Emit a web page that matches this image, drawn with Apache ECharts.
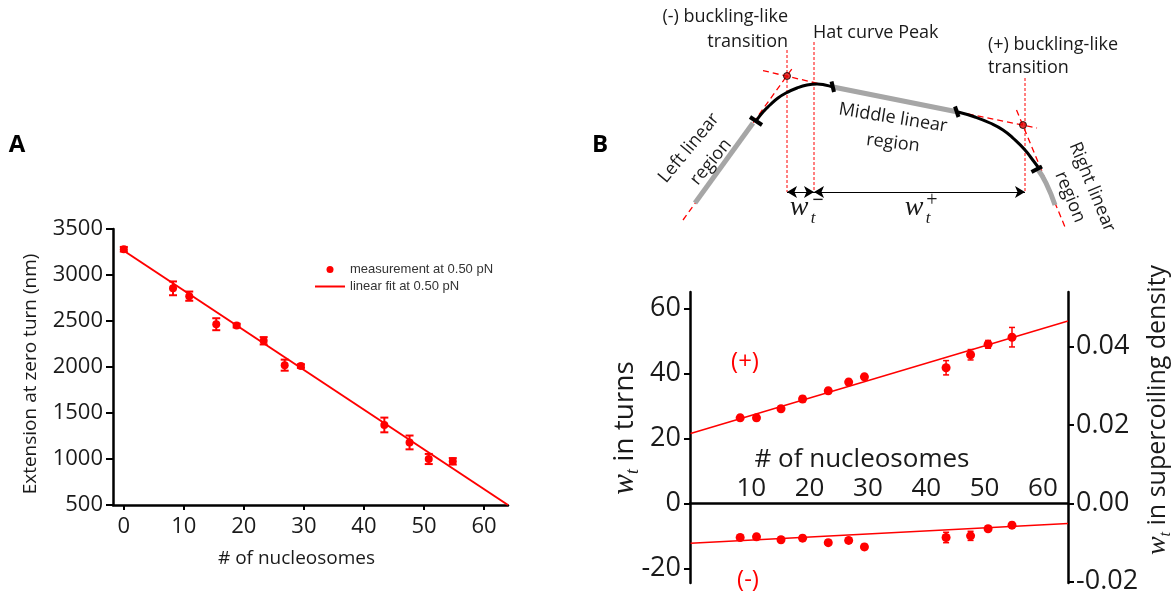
<!DOCTYPE html>
<html>
<head>
<meta charset="utf-8">
<script src="https://cdn.jsdelivr.net/npm/echarts@6/dist/echarts.min.js"></script>
<style>
    html, body { margin: 0; padding: 0; background: #fff; }
    #main { width: 1176px; height: 598px; }
</style>
</head>
<body>
<div id="main"></div>
<script>
    // ---- panel A: extension at zero turn ----
    var nucA = [0, 8.2, 10.9, 15.4, 18.8, 23.3, 26.8, 29.5, 43.4, 47.6, 50.8, 54.8];
    var extA = [3280, 2855, 2770, 2465, 2450, 2285, 2020, 2010, 1370, 1180, 1000, 975];
    var errA = [25, 75, 50, 65, 20, 40, 60, 20, 80, 75, 55, 35];
    var fitA = [[0, 3264], [64, 500]];
    var ticksAx = [0, 10, 20, 30, 40, 50, 60];

    // ---- panel B: w_t vs nucleosomes ----
    var nucB = [8.1, 10.9, 15.1, 18.8, 23.2, 26.7, 29.4, 43.4, 47.6, 50.6, 54.7];
    var plusB = [26.3, 26.3, 29.1, 32.1, 34.6, 37.3, 38.9, 41.7, 45.7, 48.9, 51.1];
    var plusErr = [0.8, 0.8, 0.8, 0.8, 0.8, 0.8, 0.8, 2.2, 1.6, 1.2, 3];
    var minusB = [-10.5, -10.3, -11.2, -10.7, -12.1, -11.4, -13.4, -10.5, -10.0, -7.8, -6.7];
    var minusErr = [0.8, 0.8, 0.8, 0.8, 0.8, 0.8, 0.8, 1.6, 1.4, 0.8, 0.8];
    var fitPlus = [[-0.4, 21.5], [64.3, 56.1]];
    var fitMinus = [[-0.4, -12.3], [64.3, -6.2]];
    var ticksBx = [10, 20, 30, 40, 50, 60];
    var ticksTurns = [-20, 0, 20, 40, 60];
    var ticksDensity = [-0.02, 0, 0.02, 0.04];

    // ---- schematic hat curve (drawing units of the top-right box) ----
    var steepLeftTangent = [[683, 220], [794, 66]];
    var flatLeftTangent = [[763, 70.6], [833, 87]];
    var flatRightTangent = [[958, 112], [1037, 128]];
    var steepRightTangent = [[1016.5, 110], [1065, 227]];
    var leftLinear = [[695, 203], [753, 123]];
    var middleLinear = [[833, 87], [958, 112]];
    var rightLinear = [[1037, 168], [1046, 183], [1055, 205]];
    var leftBend = [[756, 121], [763, 112], [770, 105], [778, 98], [787, 92.5], [797, 88], [807, 85], [817, 84], [825, 85], [833, 87]];
    var rightBend = [[958, 112], [975, 117], [990, 123], [1003, 130], [1014, 139], [1025, 150], [1032, 159], [1038, 167]];
    var bendMarks = [[[750, 117], [762, 125]], [[831.5, 81.5], [834, 92]], [[955, 106.5], [958.5, 117]], [[1031.5, 172], [1042, 166.5]]];
    var transitions = [[787, 76], [1023, 125]];
    var guideLines = [[[787, 50], [787, 192]], [[814, 42], [814, 192]], [[1025, 78], [1025, 192]]];
    var widthArrows = [[[787, 192], [814, 192]], [[814, 192], [1025, 192]]];

    var FONT = '"Open Sans", sans-serif';
    var RED = '#ff0000';

    function zip(xs, ys, es) {
        return xs.map(function (x, i) {
            return es ? [x, ys[i], es[i]] : [x, ys[i]];
        });
    }

    // 误差棒
    function errorBar(cap, width) {
        return function (params, api) {
            var x = api.value(0), y = api.value(1), e = api.value(2);
            var hi = api.coord([x, y + e]);
            var lo = api.coord([x, y - e]);
            var s = { stroke: RED, lineWidth: width };
            return {
                type: 'group',
                children: [
                    { type: 'line', shape: { x1: hi[0], y1: hi[1], x2: lo[0], y2: lo[1] }, style: s },
                    { type: 'line', shape: { x1: hi[0] - cap, y1: hi[1], x2: hi[0] + cap, y2: hi[1] }, style: s },
                    { type: 'line', shape: { x1: lo[0] - cap, y1: lo[1], x2: lo[0] + cap, y2: lo[1] }, style: s }
                ]
            };
        };
    }

    function seg(data, color, width, type, smooth, z) {
        return {
            type: 'line', xAxisIndex: 2, yAxisIndex: 3, data: data, symbol: 'none',
            smooth: smooth || false, silent: true, z: z || 2,
            lineStyle: { color: color, width: width, type: type || 'solid', cap: 'butt' }
        };
    }

    function label(x, y, text, opt) {
        opt = opt || {};
        return {
            type: 'text', x: x, y: y, rotation: opt.rot || 0, silent: true, z: 100,
            style: {
                text: text,
                fill: opt.color || '#1a1a1a',
                font: opt.font || ('18px ' + FONT),
                align: opt.align || 'center', verticalAlign: 'middle',
                textAlign: opt.align || 'center', textVerticalAlign: 'middle',
                rich: opt.rich
            }
        };
    }

    function mathRich(size) {
        return {
            w: { fontFamily: '"Liberation Serif", serif', fontStyle: 'italic', fontSize: size + 3, lineHeight: size + 6 },
            t: { fontFamily: '"Liberation Serif", serif', fontStyle: 'italic', fontSize: Math.round(size * 0.65), lineHeight: Math.round(size * 0.5), verticalAlign: 'bottom' },
            n: { fontFamily: FONT, fontSize: size, lineHeight: size + 6 }
        };
    }

    var axisLine = { show: true, onZero: false, lineStyle: { color: '#000', width: 2.5 } };

    var series = [
        // panel A
        {
            name: 'linear fit at 0.50 pN', type: 'line', xAxisIndex: 0, yAxisIndex: 0,
            data: fitA, symbol: 'none', itemStyle: { color: RED },
            lineStyle: { color: RED, width: 2 }, z: 2
        },
        {
            type: 'custom', xAxisIndex: 0, yAxisIndex: 0, data: zip(nucA, extA, errA),
            renderItem: errorBar(4, 2), encode: { x: 0, y: 1 }, z: 3
        },
        {
            name: 'measurement at 0.50 pN', type: 'scatter', xAxisIndex: 0, yAxisIndex: 0,
            data: zip(nucA, extA), symbolSize: 8, itemStyle: { color: RED, opacity: 1 }, z: 4
        },
        // panel B
        {
            type: 'line', xAxisIndex: 1, yAxisIndex: 1, data: fitPlus, symbol: 'none',
            lineStyle: { color: RED, width: 1.5 }, z: 2
        },
        {
            type: 'line', xAxisIndex: 1, yAxisIndex: 1, data: fitMinus, symbol: 'none',
            lineStyle: { color: RED, width: 1.5 }, z: 2
        },
        {
            type: 'custom', xAxisIndex: 1, yAxisIndex: 1, data: zip(nucB, plusB, plusErr),
            renderItem: errorBar(3, 1.5), encode: { x: 0, y: 1 }, z: 3
        },
        {
            type: 'custom', xAxisIndex: 1, yAxisIndex: 1, data: zip(nucB, minusB, minusErr),
            renderItem: errorBar(3, 1.5), encode: { x: 0, y: 1 }, z: 3
        },
        {
            type: 'scatter', xAxisIndex: 1, yAxisIndex: 1, data: zip(nucB, plusB),
            symbolSize: 9, itemStyle: { color: RED, opacity: 1 }, z: 4
        },
        {
            type: 'scatter', xAxisIndex: 1, yAxisIndex: 1, data: zip(nucB, minusB),
            symbolSize: 9, itemStyle: { color: RED, opacity: 1 }, z: 4
        },
        // schematic
        seg(steepLeftTangent, RED, 1.3, [6, 4]),
        seg(flatLeftTangent, RED, 1.3, [6, 4]),
        seg(flatRightTangent, RED, 1.3, [6, 4]),
        seg(steepRightTangent, RED, 1.3, [6, 4]),
        seg(leftLinear, '#a6a6a6', 5, 'solid', false, 3),
        seg(middleLinear, '#a6a6a6', 5, 'solid', false, 3),
        seg(rightLinear, '#a6a6a6', 5, 'solid', true, 3),
        seg(leftBend, '#000', 3, 'solid', true, 4),
        seg(rightBend, '#000', 3, 'solid', true, 4)
    ];
    bendMarks.forEach(function (m) { series.push(seg(m, '#000', 4, 'solid', false, 5)); });
    guideLines.forEach(function (m) { series.push(seg(m, RED, 1, [3, 2], false, 1)); });
    series.push({
        type: 'scatter', xAxisIndex: 2, yAxisIndex: 3, data: transitions, symbolSize: 7, silent: true, z: 6,
        itemStyle: { color: '#e00000', borderColor: '#000', borderWidth: 1 }
    });
    series.push({
        type: 'line', xAxisIndex: 2, yAxisIndex: 3, data: [], silent: true,
        markLine: {
            silent: true, animation: false, symbol: ['arrow', 'arrow'], symbolSize: [9, 10],
            label: { show: false }, lineStyle: { color: '#000', width: 1, type: 'solid' },
            data: widthArrows.map(function (a) { return [{ coord: a[0] }, { coord: a[1] }]; })
        }
    });

    var option = {
        animation: false,
        backgroundColor: '#fff',
        textStyle: { fontFamily: FONT },
        legend: {
            data: [
                { name: 'measurement at 0.50 pN', icon: 'circle' },
                { name: 'linear fit at 0.50 pN', icon: 'path://M0,0L30,0L30,2L0,2Z' }
            ],
            orient: 'vertical', left: 310, top: 258, itemWidth: 30, itemHeight: 7, itemGap: 4,
            selectedMode: false,
            textStyle: { fontFamily: '"Liberation Sans", Arial, sans-serif', fontSize: 13, color: '#333' }
        },
        grid: [
            { left: 113, top: 229, width: 395, height: 276 },
            { left: 690, top: 292, width: 378, height: 291 },
            { left: 580, top: 0, width: 596, height: 240 }
        ],
        xAxis: [
            {
                gridIndex: 0, type: 'value', min: -1.8, max: 64,
                name: '# of nucleosomes', nameLocation: 'middle', nameGap: 44,
                nameTextStyle: { fontSize: 19, color: '#1a1a1a', padding: [0, 28, 0, 0] },
                axisLine: axisLine,
                axisTick: { show: true, customValues: ticksAx, length: 5, lineStyle: { color: '#000', width: 2 } },
                axisLabel: { customValues: ticksAx, fontSize: 22, color: '#1a1a1a', margin: 11 },
                splitLine: { show: false }
            },
            {
                // 轴线放在 y=0 处，刻度文字在上方
                gridIndex: 1, type: 'value', min: -0.5, max: 64.3, position: 'top', offset: -211.3,
                axisLine: axisLine,
                axisTick: { show: false },
                axisLabel: { customValues: ticksBx, fontSize: 26, color: '#1a1a1a', margin: 2 },
                splitLine: { show: false }
            },
            { gridIndex: 2, type: 'value', min: 580, max: 1176, show: false }
        ],
        yAxis: [
            {
                gridIndex: 0, type: 'value', min: 500, max: 3500, interval: 500,
                name: 'Extension at zero turn (nm)', nameLocation: 'middle', nameGap: 73,
                nameTextStyle: { fontSize: 19, color: '#1a1a1a', padding: [0, 14, 0, 0] },
                axisLine: axisLine,
                axisTick: { show: true, length: 7, lineStyle: { color: '#000', width: 2 } },
                axisLabel: {
                    fontSize: 22, color: '#1a1a1a', margin: 10,
                    formatter: function (v) { return String(v); }
                },
                splitLine: { show: false }
            },
            {
                gridIndex: 1, type: 'value', min: -24.5, max: 65,
                axisLine: axisLine,
                axisTick: { show: true, customValues: ticksTurns, length: 6, lineStyle: { color: '#000', width: 2 } },
                axisLabel: { customValues: ticksTurns, fontSize: 27, color: '#1a1a1a', margin: 9 },
                splitLine: { show: false }
            },
            {
                gridIndex: 1, type: 'value', position: 'right', min: -0.02034, max: 0.05396,
                axisLine: axisLine,
                axisTick: { show: true, customValues: ticksDensity, length: 6, lineStyle: { color: '#000', width: 2 } },
                axisLabel: {
                    customValues: ticksDensity, fontSize: 27, color: '#1a1a1a', margin: 8,
                    formatter: function (v) { return v.toFixed(2); }
                },
                splitLine: { show: false }
            },
            { gridIndex: 2, type: 'value', min: 0, max: 240, inverse: true, show: false }
        ],
        graphic: [
            label(17, 145, 'A', { font: 'bold 24px ' + FONT, color: '#000' }),
            label(600, 145, 'B', { font: 'bold 24px ' + FONT, color: '#000' }),
            label(862, 460, '# of nucleosomes', { font: '26px ' + FONT }),
            label(625, 428, '{w|w}{t|t}{n| in turns}', { rot: Math.PI / 2, font: '28px ' + FONT, rich: mathRich(28) }),
            label(1158, 410, '{w|w}{t|t}{n| in supercoiling density}', { rot: Math.PI / 2, font: '25px ' + FONT, rich: mathRich(25) }),
            label(745, 362, '(+)', { font: '24px ' + FONT, color: RED }),
            label(748, 580, '(-)', { font: '24px ' + FONT, color: RED }),
            // schematic texts
            label(788, 17, '(-) buckling-like', { align: 'right' }),
            label(788, 42, 'transition', { align: 'right' }),
            label(813, 33, 'Hat curve Peak', { align: 'left' }),
            label(988, 45, '(+) buckling-like', { align: 'left' }),
            label(988, 68, 'transition', { align: 'left' }),
            label(893, 118, 'Middle linear', { rot: -0.16 }),
            label(893, 143, 'region', { rot: -0.12 }),
            label(689, 148, 'Left linear', { rot: 0.88 }),
            label(711, 162, 'region', { rot: 0.88 }),
            label(1092, 187, 'Right linear', { rot: -1.18 }),
            label(1070, 197, 'region', { rot: -1.18 }),
            label(799, 208, 'w', { font: 'italic 28px "Liberation Serif", serif' }),
            label(813, 219, 't', { font: 'italic 17px "Liberation Serif", serif' }),
            label(818, 201, '\u2212', { font: 'bold 20px "Liberation Serif", serif' }),
            label(914, 208, 'w', { font: 'italic 28px "Liberation Serif", serif' }),
            label(928, 219, 't', { font: 'italic 17px "Liberation Serif", serif' }),
            label(932, 201, '+', { font: '20px "Liberation Serif", serif' })
        ],
        series: series
    };

    var myChart = echarts.init(document.getElementById('main'));
    myChart.setOption(option);
</script>
</body>
</html>
